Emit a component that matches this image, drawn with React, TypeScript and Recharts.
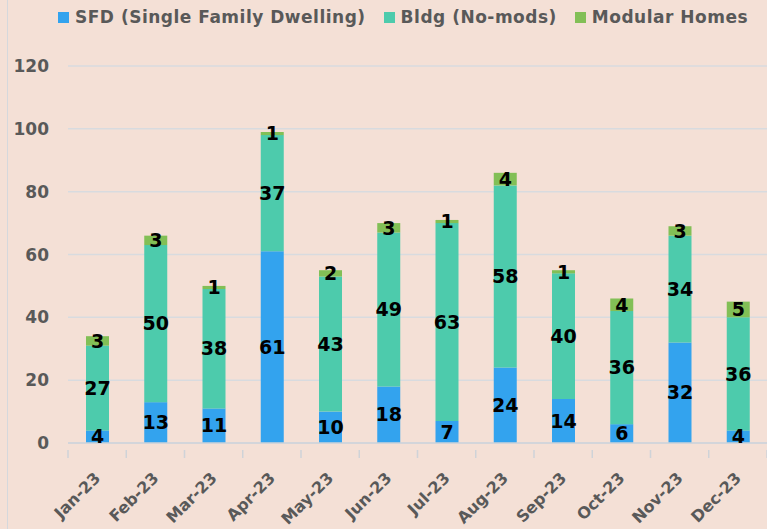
import { BarChart, Bar, XAxis, YAxis, CartesianGrid, LabelList } from 'recharts';

const months = ['Jan-23', 'Feb-23', 'Mar-23', 'Apr-23', 'May-23', 'Jun-23', 'Jul-23', 'Aug-23', 'Sep-23', 'Oct-23', 'Nov-23', 'Dec-23'];
const sfd = [4, 13, 11, 61, 10, 18, 7, 24, 14, 6, 32, 4];
const bldg = [27, 50, 38, 37, 43, 49, 63, 58, 40, 36, 34, 36];
const modular = [3, 3, 1, 1, 2, 3, 1, 4, 1, 4, 3, 5];
const yTicks = [0, 20, 40, 60, 80, 100, 120];

const series = [
  { key: 'sfd', name: 'SFD (Single Family Dwelling)', color: '#33A3EE' },
  { key: 'bldg', name: 'Bldg (No-mods)', color: '#4DCBAC' },
  { key: 'modular', name: 'Modular Homes', color: '#82BF56' },
];

const data = months.map((m, i) => ({ month: m, sfd: sfd[i], bldg: bldg[i], modular: modular[i] }));

const FONT = '"DejaVu Sans", Lato, sans-serif';
const GRAY = '#595959';
const W = 767;
const H = 529;
const PLOT_LEFT = 68;
const PLOT_RIGHT = 0;
const BAND = (W - PLOT_LEFT - PLOT_RIGHT) / months.length;

// month label, rotated like excel, plus boundary tick marks
const MonthTick = (props: any) => {
  const { x, y, payload, index } = props;
  const left = x - BAND / 2;
  return (
    <g>
      <line x1={left} y1={y - 1} x2={left} y2={y + 7} stroke="#CFD3D8" strokeWidth={1.5} />
      {index === months.length - 1 && (
        <line x1={x + BAND / 2} y1={y - 1} x2={x + BAND / 2} y2={y + 7} stroke="#CFD3D8" strokeWidth={1.5} />
      )}
      <text
        transform={`translate(${x + 1}, ${y + 25}) rotate(-45)`}
        textAnchor="end"
        dominantBaseline="middle"
        fontFamily={FONT}
        fontWeight={700}
        fontSize={16}
        fill={GRAY}
      >
        {payload.value}
      </text>
    </g>
  );
};

export default function App() {
  return (
    <div style={{ position: 'absolute', left: 0, top: 0, width: W, height: H, background: '#F4E0D6', overflow: 'hidden' }}>
      <style>{`body{margin:0}`}</style>
      <div style={{ position: 'absolute', left: 7, top: 0, width: 0, height: H, borderLeft: '1px solid #D5D8DC' }} />
      <div
        style={{
          position: 'absolute',
          left: 58,
          top: 7,
          display: 'flex',
          alignItems: 'center',
          whiteSpace: 'nowrap',
          width: 720,
          fontFamily: FONT,
          fontWeight: 700,
          fontSize: 17,
          letterSpacing: 0.5,
          color: GRAY,
        }}
      >
        {series.map((s) => (
          <div key={s.key} style={{ display: 'flex', alignItems: 'center', marginRight: 18, flexShrink: 0 }}>
            <span style={{ display: 'inline-block', width: 11, height: 11, background: s.color, marginRight: 6 }} />
            {s.name}
          </div>
        ))}
      </div>
      <BarChart
        width={W}
        height={H}
        data={data}
        barSize={23}
        margin={{ top: 66, right: PLOT_RIGHT, left: 0, bottom: 6 }}
        style={{ position: 'absolute', left: 0, top: 0 }}
      >
        <CartesianGrid vertical={false} stroke="#D8DBDF" strokeWidth={1.5} />
        <XAxis
          dataKey="month"
          height={80}
          axisLine={{ stroke: '#CFD3D8', strokeWidth: 1.5 }}
          tickLine={false}
          interval={0}
          tick={<MonthTick />}
        />
        <YAxis
          width={PLOT_LEFT}
          domain={[0, 120]}
          ticks={yTicks}
          axisLine={false}
          tickLine={false}
          tickSize={0}
          tickMargin={19}
          tick={{ fontFamily: FONT, fontWeight: 700, fontSize: 17, fill: GRAY }}
        />
        {series.map((s) => (
          <Bar key={s.key} dataKey={s.key} name={s.name} stackId="a" fill={s.color} isAnimationActive={false}>
            <LabelList
              dataKey={s.key}
              position="center"
              fill="#000"
              fontFamily={FONT}
              fontWeight={700}
              fontSize={19}
            />
          </Bar>
        ))}
      </BarChart>
    </div>
  );
}
